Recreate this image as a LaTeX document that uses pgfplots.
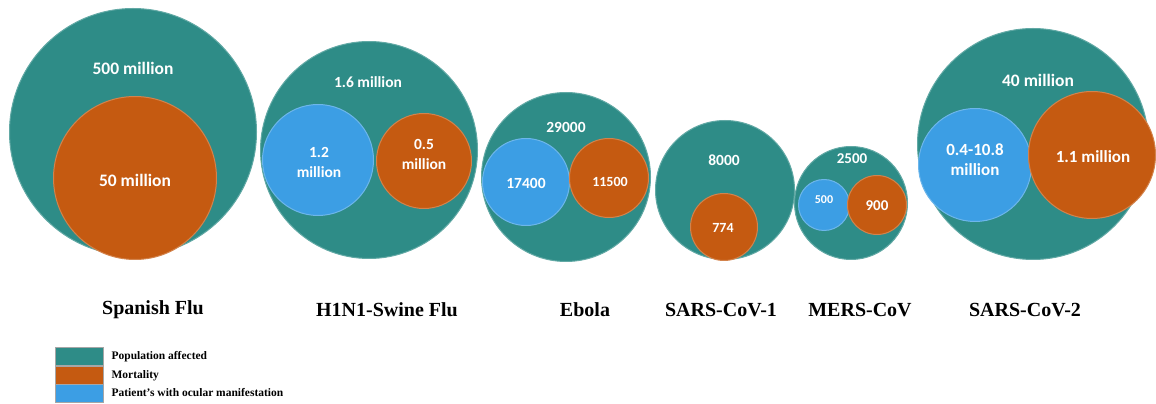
\documentclass[border=0pt]{standalone}
\usepackage{fontspec}
\setmainfont{Liberation Serif}
\newfontfamily\numfont{Carlito}
\usepackage{pgfplots}
\usepackage{pgfplotstable}
\pgfplotsset{compat=1.18}

\definecolor{popc}{RGB}{46,140,135}
\definecolor{mortc}{RGB}{197,90,17}
\definecolor{ocuc}{RGB}{60,158,228}

\tikzset{
  num/.style={text=white, align=center, font=\numfont\bfseries\fontsize{#1}{20}\selectfont},
  cat/.style={font=\fontsize{20}{24}\selectfont\bfseries},
}
\pgfplotsset{
  bubble/.style={scatter, only marks, mark=*, forget plot,
    scatter/use mapped color={draw=#1!75!white, fill=#1, line width=1pt},
    visualization depends on={\thisrow{r}\as\rad},
    scatter/@pre marker code/.append style={/tikz/mark size=\rad-0.5}},
}

% bubble centres and radii, in pixels of the 1156x404 picture
\pgfplotstableread{
x    y   r
133  132 124
369  150 109
566  177 85
725  190 70
851  203 57
1033 144 116
}\popdata
\pgfplotstableread{
x    y   r
318  160 56
526  182 44
824  205 26
975  165 57
}\ocudata
\pgfplotstableread{
x    y   r
135  178 82
424  161 48
609  178 40
724  227 34
877  205 30
1092 155 64
}\mortdata

\begin{document}
\begin{tikzpicture}
\begin{axis}[
  set layers,
  scale only axis, width=1156pt, height=404pt,
  xmin=0, xmax=1156, ymin=0, ymax=404, y dir=reverse,
  hide axis, clip=false,
  legend image code/.code={\draw[#1] (0pt,-9pt) rectangle (48pt,9pt);},
  legend style={at={(axis cs:55,347)}, anchor=north west, draw=none, fill=none,
    inner sep=0pt, row sep=0pt, column sep=8pt,
    font=\fontsize{11.5}{12}\selectfont\bfseries, nodes={inner sep=0pt}},
  legend cell align=left,
]
\addlegendimage{fill=popc, draw=gray!70}
\addlegendentry{Population affected}
\addlegendimage{fill=mortc, draw=gray!70}
\addlegendentry{Mortality}
\addlegendimage{fill=ocuc, draw=gray!70}
\addlegendentry{Patient’s with ocular manifestation}

\addplot[bubble=popc] table[x=x, y=y] {\popdata};
\addplot[bubble=ocuc] table[x=x, y=y] {\ocudata};
\addplot[bubble=mortc] table[x=x, y=y] {\mortdata};

\begin{pgfonlayer}{axis foreground}
% values inside the bubbles
\node[num=17.5] at (axis cs:133,68) {500 million};
\node[num=17.5] at (axis cs:135,180) {50 million};
\node[num=15.5] at (axis cs:368,82) {1.6 million};
\node[num=15.5] at (axis cs:319,162) {1.2\\million};
\node[num=15.5] at (axis cs:424,154) {0.5\\million};
\node[num=15.5] at (axis cs:566,127) {29000};
\node[num=15.5] at (axis cs:526,183) {17400};
\node[num=14] at (axis cs:610,182) {11500};
\node[num=15.5] at (axis cs:724,160) {8000};
\node[num=14] at (axis cs:723,228) {774};
\node[num=15] at (axis cs:852,159) {2500};
\node[num=12] at (axis cs:824,200) {500};
\node[num=15] at (axis cs:877,206) {900};
\node[num=17.5] at (axis cs:1038,80) {40 million};
\node[num=17] at (axis cs:975,160) {0.4-10.8\\million};
\node[num=17] at (axis cs:1093,157) {1.1 million};

% disease names
\node[cat] at (axis cs:153,310) {Spanish Flu};
\node[cat] at (axis cs:387,310) {H1N1-Swine Flu};
\node[cat] at (axis cs:585,310) {Ebola};
\node[cat] at (axis cs:721,310) {SARS-CoV-1};
\node[cat] at (axis cs:860,310) {MERS-CoV};
\node[cat] at (axis cs:1025,310) {SARS-CoV-2};
\end{pgfonlayer}
\end{axis}
\pgfresetboundingbox
\useasboundingbox (current axis.south west) rectangle (current axis.north east);
\end{tikzpicture}
\end{document}
